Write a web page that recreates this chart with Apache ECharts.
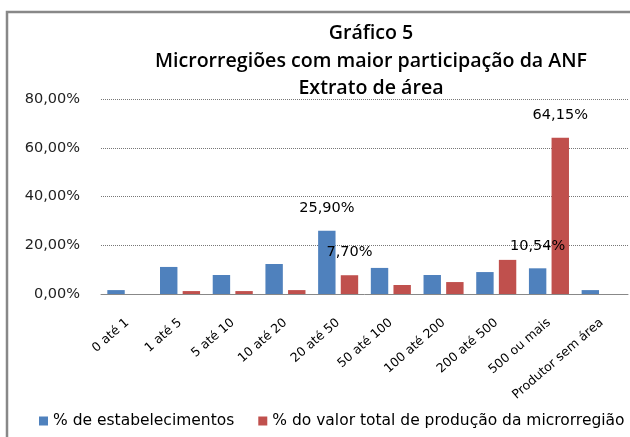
<!DOCTYPE html>
<html>
<head>
<meta charset="utf-8">
<script src="https://cdn.jsdelivr.net/npm/echarts@6/dist/echarts.min.js"></script>
<style>
  html, body { margin: 0; padding: 0; background: #fff; }
  #chartData { width: 630px; height: 437px; }
</style>
</head>
<body>
<div id="chartData"></div>
<script>
// categorias (extrato de área)
const categories = ['0 até 1', '1 até 5', '5 até 10', '10 até 20', '20 até 50', '50 até 100', '100 até 200', '200 até 500', '500 ou mais', 'Produtor sem área'];
// % de estabelecimentos
const estabelecimentos = [1.6, 11.1, 7.8, 12.3, 25.90, 10.7, 7.8, 9.0, 10.54, 1.6];
// % do valor total de produção da microrregião
const valorProducao = [0, 1.2, 1.2, 1.6, 7.70, 3.7, 4.9, 14.0, 64.15, 0];
// pontos com rótulo de dados
const labeledEstab = [4, 8];
const labeledValor = [4, 8];
const yTicks = { min: 0, max: 80, interval: 20 };

function fmt(v) {
  return v.toFixed(2).replace('.', ',') + '%';
}

function withLabels(values, idxs) {
  return values.map(function (v, i) {
    if (idxs.indexOf(i) >= 0) {
      return { value: v, label: { show: true } };
    }
    return v;
  });
}

let myChart = echarts.init(document.getElementById('chartData'));

const labelStyle = {
  show: false,
  position: 'top',
  distance: 15,
  color: '#000',
  fontFamily: 'DejaVu Sans',
  fontSize: 14.5,
  formatter: function (p) { return fmt(p.value); }
};

const option = {
  animation: false,
  color: ['#4F81BD', '#C0504D'],
  graphic: [{
    type: 'rect',
    shape: { x: 7, y: 12, width: 700, height: 500 },
    style: { fill: 'none', stroke: '#888', lineWidth: 2.5 },
    z: -1
  }],
  title: {
    text: 'Gráfico 5\nMicrorregiões com maior participação da ANF\nExtrato de área',
    left: 366,
    top: 15,
    textAlign: 'center',
    textStyle: {
      fontFamily: 'Open Sans',
      fontWeight: 600,
      fontSize: 19.6,
      lineHeight: 27.5,
      color: '#000'
    }
  },
  grid: {
    left: 101,
    right: 2,
    top: 99,
    bottom: 143
  },
  legend: {
    left: 39,
    top: 413,
    padding: 0,
    itemWidth: 9,
    itemHeight: 9,
    itemGap: 24,
    icon: 'rect',
    textStyle: {
      fontFamily: 'DejaVu Sans',
      fontSize: 15.5,
      color: '#000'
    },
    data: ['% de estabelecimentos', '% do valor total de produção da microrregião']
  },
  xAxis: {
    type: 'category',
    data: categories,
    axisTick: { show: false },
    axisLine: { lineStyle: { color: '#888', width: 1 } },
    axisLabel: {
      interval: 0,
      rotate: 41,
      margin: 27,
      fontFamily: 'DejaVu Sans',
      fontSize: 12.5,
      color: '#000'
    }
  },
  yAxis: {
    type: 'value',
    min: yTicks.min,
    max: yTicks.max,
    interval: yTicks.interval,
    axisLine: { show: false },
    axisTick: { show: false },
    splitLine: {
      show: true,
      lineStyle: { color: '#777', type: 'dotted', width: 1 }
    },
    axisLabel: {
      margin: 21,
      fontFamily: 'DejaVu Sans',
      fontSize: 14.5,
      color: '#222',
      formatter: function (v) { return fmt(v); }
    }
  },
  series: [
    {
      name: '% de estabelecimentos',
      type: 'bar',
      barGap: '30%',
      barCategoryGap: '24%',
      label: labelStyle,
      data: withLabels(estabelecimentos, labeledEstab)
    },
    {
      name: '% do valor total de produção da microrregião',
      type: 'bar',
      barGap: '30%',
      barCategoryGap: '24%',
      label: labelStyle,
      data: withLabels(valorProducao, labeledValor)
    }
  ]
};

myChart.setOption(option, true);
</script>
</body>
</html>
